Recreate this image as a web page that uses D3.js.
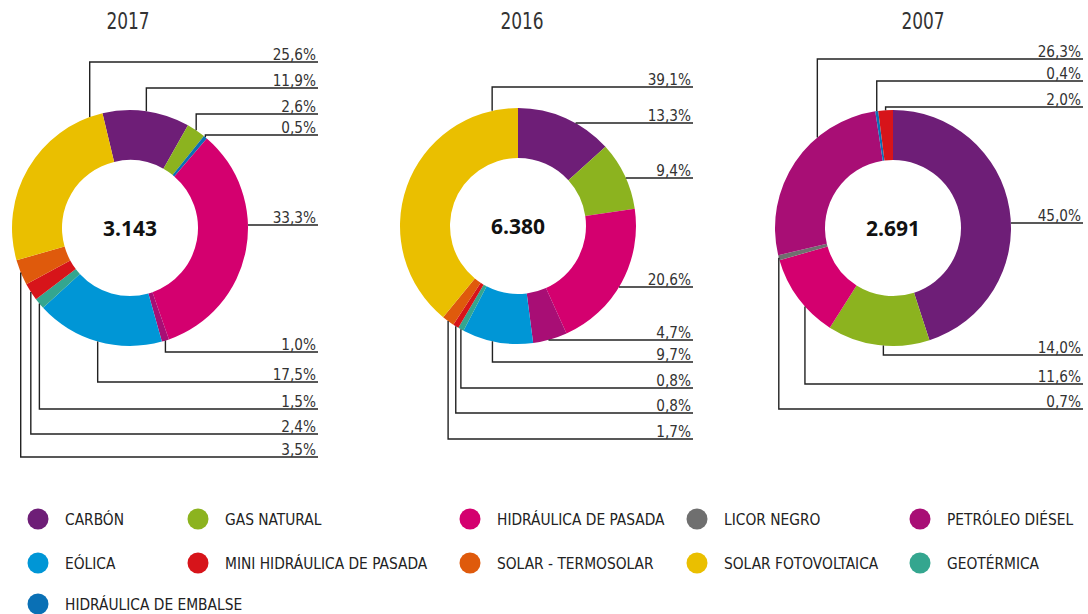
<!DOCTYPE html>
<html>
<head>
<meta charset="utf-8">
<script src="https://cdn.jsdelivr.net/npm/d3@7/dist/d3.min.js"></script>
<style>
  html, body { margin: 0; padding: 0; background: #ffffff; }
  svg { display: block; }
  .lbl { font-family: "Liberation Sans Narrow", "DejaVu Sans Condensed", "Arial Narrow", sans-serif; fill: #333; }
  .num { font-family: "Open Sans", "Liberation Sans", sans-serif; font-weight: 700; fill: #111; }
</style>
</head>
<body>
<svg id="chart" width="1088" height="614"></svg>
<script>
// ---------- DATA ----------
const categories = ["CARBÓN", "GAS NATURAL", "HIDRÁULICA DE PASADA", "LICOR NEGRO", "PETRÓLEO DIÉSEL",
  "EÓLICA", "MINI HIDRÁULICA DE PASADA", "SOLAR - TERMOSOLAR", "SOLAR FOTOVOLTAICA", "GEOTÉRMICA",
  "HIDRÁULICA DE EMBALSE"];
const categoryColors = ["#6e1e77", "#8cb31f", "#d4006f", "#6f6f6f", "#a80e75",
  "#0096d6", "#d7141a", "#df5a0c", "#eabf00", "#34a68f", "#0a70b5"];

const years = ["2017", "2016", "2007"];
const totals = ["3.143", "6.380", "2.691"];

const order2017 = ["CARBÓN", "GAS NATURAL", "HIDRÁULICA DE EMBALSE", "HIDRÁULICA DE PASADA", "PETRÓLEO DIÉSEL",
  "EÓLICA", "GEOTÉRMICA", "MINI HIDRÁULICA DE PASADA", "SOLAR - TERMOSOLAR", "SOLAR FOTOVOLTAICA"];
const values2017 = [11.9, 2.6, 0.5, 33.3, 1.0, 17.5, 1.5, 2.4, 3.5, 25.6];

const order2016 = ["CARBÓN", "GAS NATURAL", "HIDRÁULICA DE PASADA", "PETRÓLEO DIÉSEL", "EÓLICA",
  "GEOTÉRMICA", "MINI HIDRÁULICA DE PASADA", "SOLAR - TERMOSOLAR", "SOLAR FOTOVOLTAICA"];
const values2016 = [13.3, 9.4, 20.6, 4.7, 9.7, 0.8, 0.8, 1.7, 39.1];

const order2007 = ["CARBÓN", "GAS NATURAL", "HIDRÁULICA DE PASADA", "LICOR NEGRO", "PETRÓLEO DIÉSEL",
  "HIDRÁULICA DE EMBALSE", "MINI HIDRÁULICA DE PASADA"];
const values2007 = [45.0, 14.0, 11.6, 0.7, 26.3, 0.4, 2.0];

// ---------- LAYOUT (positions of label rows, not data) ----------
const layouts = [
  { cx: 130, cy: 228, start: -13.5, lineEnd: 318, titleX: 128,
    rowY: [88, 114, 135, 225, 352, 382, 409, 434, 457, 62],
    anchor: [0.5, 0.5, 0.5, 0.5, 0.5, 0.5, 0.5, 0.5, 0.5, 0.93] },
  { cx: 518, cy: 226, start: 0, lineEnd: 693, titleX: 522,
    rowY: [123, 178, 287, 340, 362, 388, 413, 439, 87],
    anchor: [0.5, 0.5, 0.5, 0.5, 0.57, 0.5, 0.5, 0.5, 0.91] },
  { cx: 893, cy: 228, start: 0, lineEnd: 1083, titleX: 923,
    rowY: [223, 355, 384, 409, 59, 81, 107],
    anchor: [0.5, 0.45, 0.38, 0.5, 0.67, 0.5, 0.5] }
];

const orders = [order2017, order2016, order2007];
const valueSets = [values2017, values2016, values2007];

const legendRows = [
  ["CARBÓN", "GAS NATURAL", "HIDRÁULICA DE PASADA", "LICOR NEGRO", "PETRÓLEO DIÉSEL"],
  ["EÓLICA", "MINI HIDRÁULICA DE PASADA", "SOLAR - TERMOSOLAR", "SOLAR FOTOVOLTAICA", "GEOTÉRMICA"],
  ["HIDRÁULICA DE EMBALSE"]
];

// ---------- DRAW ----------
const svg = d3.select("#chart");
const color = d3.scaleOrdinal().domain(categories).range(categoryColors);
const fmt = v => d3.format(".1f")(v).replace(".", ",") + "%";
const R = 118, r = 68;
const arc = d3.arc().innerRadius(r).outerRadius(R);

function condText(sel, x, y, size, sx, anchor, txt) {
  return sel.append("text").attr("class", "lbl")
    .attr("transform", `translate(${x},${y}) scale(${sx},1)`)
    .attr("text-anchor", anchor).attr("font-size", size).text(txt);
}

years.forEach((yr, i) => {
  const L = layouts[i];
  const order = orders[i], vals = valueSets[i];
  const data = order.map((c, j) => ({ cat: c, value: vals[j], idx: j }));
  const s0 = L.start * Math.PI / 180;
  const pie = d3.pie().value(d => d.value).sort(null)
    .startAngle(s0).endAngle(s0 + 2 * Math.PI);
  const arcs = pie(data);

  const g = svg.append("g");
  condText(g, L.titleX, 29, 22.5, 0.84, "middle", yr);

  const dg = g.append("g").attr("transform", `translate(${L.cx},${L.cy})`);
  dg.selectAll("path").data(arcs).join("path")
    .attr("d", arc).attr("fill", d => color(d.data.cat));

  dg.append("text").attr("class", "num")
    .attr("x", 0).attr("y", 8).attr("text-anchor", "middle")
    .attr("font-size", 21).text(totals[i]);

  arcs.forEach((a, j) => {
    const y = L.rowY[j];
    const dy = y - L.cy;
    let pts;
    let horizontal = false;
    if (Math.abs(dy) < R) {
      const dx = Math.sqrt(R * R - dy * dy);
      let ang = Math.atan2(dx, -dy);
      while (ang < a.startAngle) ang += 2 * Math.PI;
      while (ang > a.startAngle + 2 * Math.PI) ang -= 2 * Math.PI;
      if (ang >= a.startAngle && ang <= a.endAngle) {
        horizontal = true;
        pts = [[L.cx + dx, y], [L.lineEnd, y]];
      }
    }
    if (!horizontal) {
      const ang = a.startAngle + L.anchor[j] * (a.endAngle - a.startAngle);
      const ax = L.cx + R * Math.sin(ang), ay = L.cy - R * Math.cos(ang);
      pts = [[ax, ay], [ax, y], [L.lineEnd, y]];
    }
    g.append("path")
      .attr("d", d3.line()(pts))
      .attr("fill", "none").attr("stroke", "#222").attr("stroke-width", 1.4);
    condText(g, L.lineEnd - 2, y - 2.5, 16.5, 0.92, "end", fmt(a.data.value));
  });
});

// legend
const colX = [38, 198, 470, 697, 920];
const rowYs = [519, 563, 604];
legendRows.forEach((row, ri) => {
  row.forEach((cat, ci) => {
    const lg = svg.append("g").attr("transform", `translate(${colX[ci]},${rowYs[ri]})`);
    lg.append("circle").attr("r", 10.5).attr("fill", color(cat));
    condText(lg, 27, 6, 16.5, 0.93, "start", cat).style("fill", "#222");
  });
});
</script>
</body>
</html>
